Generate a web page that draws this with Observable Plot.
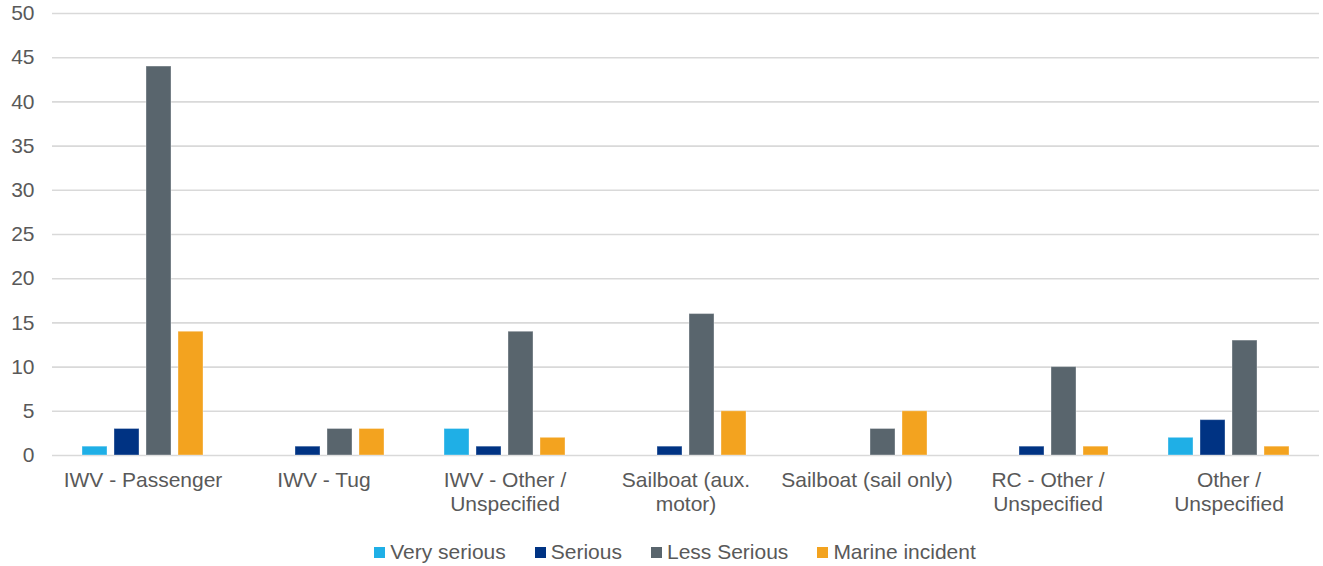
<!DOCTYPE html>
<html>
<head>
<meta charset="utf-8">
<script src="https://cdn.jsdelivr.net/npm/d3@7"></script>
<script src="https://cdn.jsdelivr.net/npm/@observablehq/plot@0.6"></script>
<style>
  html, body { margin: 0; padding: 0; background: #fff; }
  body { font-family: "Liberation Sans", Arial, sans-serif; color: #595959; }
  #legend { display: flex; justify-content: center; gap: 29px; font-size: 21px; margin-top: 10px; padding-left: 27px; line-height: 24px; }
  .item { display: flex; align-items: center; }
  .sw { width: 11px; height: 11px; margin-right: 5px; }
</style>
</head>
<body>
<div id="chart"></div>
<div id="legend"></div>
<script>
const categories = ["IWV - Passenger", "IWV - Tug", "IWV - Other / Unspecified", "Sailboat (aux. motor)", "Sailboat (sail only)", "RC - Other / Unspecified", "Other / Unspecified"];
const categoryLabels = ["IWV - Passenger", "IWV - Tug", "IWV - Other /\nUnspecified", "Sailboat (aux.\nmotor)", "Sailboat (sail only)", "RC - Other /\nUnspecified", "Other /\nUnspecified"];
const series = ["Very serious", "Serious", "Less Serious", "Marine incident"];
const colors = ["#1fafe6", "#003383", "#59656d", "#f3a31f"];
const verySerious = [1, 0, 3, 0, 0, 0, 2];
const serious = [3, 1, 1, 1, 0, 1, 4];
const lessSerious = [44, 3, 14, 16, 3, 10, 13];
const marineIncident = [14, 3, 2, 5, 5, 1, 1];
const yTicks = [0, 5, 10, 15, 20, 25, 30, 35, 40, 45, 50];

const seriesValues = [verySerious, serious, lessSerious, marineIncident];
const data = [];
categories.forEach((c, i) => {
  series.forEach((s, j) => data.push({cat: c, series: s, value: seriesValues[j][i]}));
});
const labelOf = new Map(categories.map((c, i) => [c, categoryLabels[i]]));

const chart = Plot.plot({
  width: 1323,
  height: 530,
  marginTop: 13,
  marginLeft: 50,
  marginRight: 3,
  marginBottom: 75,
  style: {fontFamily: "'Liberation Sans', Arial, sans-serif", fontSize: "21px", color: "#595959", background: "#fff"},
  fx: {domain: categories, padding: 0, label: null},
  x: {domain: series, axis: null, paddingInner: 0.21, paddingOuter: 0.85},
  y: {domain: [0, 50], label: null},
  color: {domain: series, range: colors},
  marks: [
    Plot.ruleY(yTicks, {stroke: "#d9d9d9", strokeWidth: 1.6}),
    Plot.barY(data, {fx: "cat", x: "series", y: "value", fill: "series", stroke: "#ffffff", strokeOpacity: 0.35, strokeWidth: 1}),
    Plot.axisY(yTicks, {tickSize: 0, tickPadding: 18, label: null, fontSize: 21, fill: "#595959"}),
    Plot.axisFx({anchor: "bottom", tickSize: 0, tickPadding: 14, label: null, fontSize: 21, fill: "#595959", lineHeight: 1.15, tickFormat: d => labelOf.get(d)})
  ]
});
document.getElementById("chart").appendChild(chart);

const legend = document.getElementById("legend");
series.forEach((s, i) => {
  const it = document.createElement("div");
  it.className = "item";
  const sw = document.createElement("div");
  sw.className = "sw";
  sw.style.background = colors[i];
  const t = document.createElement("span");
  t.textContent = s;
  it.appendChild(sw); it.appendChild(t);
  legend.appendChild(it);
});
</script>
</body>
</html>
